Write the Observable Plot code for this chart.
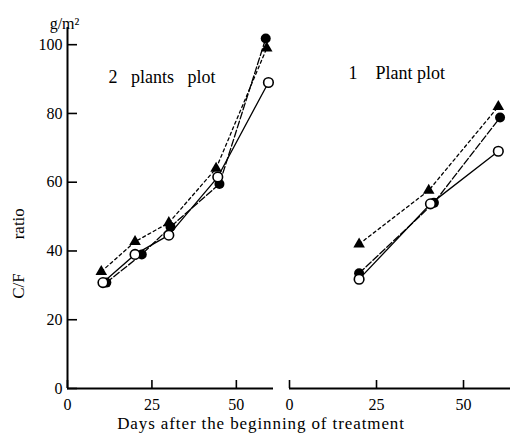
<!DOCTYPE html>
<html>
<head>
<meta charset="utf-8">
<script src="https://cdn.jsdelivr.net/npm/d3@7"></script>
<script src="https://cdn.jsdelivr.net/npm/@observablehq/plot@0.6"></script>
<style>
  html, body { margin: 0; padding: 0; background: #fff; }
  #wrap { position: relative; width: 518px; height: 445px; font-family: 'Liberation Serif', serif; }
  #wrap svg { position: absolute; top: 0; background: transparent; font-family: 'Liberation Serif', serif; }
  #wrap svg text { font-family: 'Liberation Serif', serif; }
  #xtitle { position: absolute; top: 414px; left: 0; width: 522px; text-align: center; font-family: 'Liberation Serif', serif; font-size: 17px; letter-spacing: 0.9px; color: #000; }
</style>
</head>
<body>
<div id="wrap"><div id="xtitle">Days after the beginning of treatment</div></div>
<script>
// ---- data ----
const panelTitles = ["2\u00A0\u00A0\u00A0plants\u00A0\u00A0\u00A0plot", "1\u00A0\u00A0\u00A0\u00A0Plant plot"];
const yTicks = [0, 20, 40, 60, 80, 100];
const xTicks = [0, 25, 50];
const yUnit = "g/m\u00B2";
const yLabel = "C/F\u00A0\u00A0\u00A0\u00A0\u00A0\u00A0\u00A0\u00A0ratio";

// 2 plants plot
const leftTriDays = [10, 20, 30, 44, 59];
const leftTriVals = [34, 42.7, 48.2, 64, 99];
const leftFilledDays = [11.5, 22, 30.5, 45, 58.7];
const leftFilledVals = [30.8, 39, 47, 59.5, 101.8];
const leftOpenDays = [10.5, 20, 30, 44.5, 59.5];
const leftOpenVals = [30.8, 39, 44.6, 61.5, 89];

// 1 Plant plot
const rightTriDays = [20, 40, 60];
const rightTriVals = [42, 57.6, 82];
const rightFilledDays = [20, 41.5, 60.5];
const rightFilledVals = [33.5, 54, 78.8];
const rightOpenDays = [20, 40.5, 60];
const rightOpenVals = [31.8, 53.7, 69];

const FONT = "'Liberation Serif', serif";
const zip = (xs, ys) => xs.map((x, i) => ({day: x, val: ys[i]}));

function seriesMarks(tri, filled, open) {
  return [
    Plot.line(tri, {x: "day", y: "val", stroke: "#000", strokeWidth: 1.3, strokeDasharray: "3,3"}),
    Plot.line(filled, {x: "day", y: "val", stroke: "#000", strokeWidth: 1.3, strokeDasharray: "7,2.5"}),
    Plot.line(open, {x: "day", y: "val", stroke: "#000", strokeWidth: 1.3}),
    Plot.dot(tri, {x: "day", y: "val", symbol: "triangle", r: 4.3, fill: "#000"}),
    Plot.dot(filled, {x: "day", y: "val", r: 5, fill: "#000"}),
    Plot.dot(open, {x: "day", y: "val", r: 4.8, fill: "#fff", stroke: "#000", strokeWidth: 1.6})
  ];
}

const common = {
  height: 445,
  marginTop: 27,
  marginBottom: 57,
  style: {fontFamily: FONT, fontSize: "16px", background: "transparent", overflow: "visible"}
};

const left = Plot.plot({
  ...common,
  width: 280,
  marginLeft: 67,
  marginRight: 7,
  x: {domain: [0, 61]},
  y: {domain: [0, 105]},
  marks: [
    Plot.axisY({ticks: yTicks, tickSize: -10, tickPadding: 15, label: null, fontSize: 16, fontFamily: FONT, strokeWidth: 1.6}),
    Plot.axisX({ticks: xTicks, tickSize: -8, tickPadding: 18, label: null, fontSize: 16, fontFamily: FONT, strokeWidth: 1.6}),
    Plot.ruleX([0], {stroke: "#000", strokeWidth: 2}),
    Plot.ruleY([0], {stroke: "#000", strokeWidth: 2}),
    Plot.text([yUnit], {frameAnchor: "top-left", dx: -3, dy: -10, fontSize: 16, fontFamily: FONT, textAnchor: "middle"}),
    Plot.text([yLabel], {frameAnchor: "left", rotate: -90, dx: -49, dy: 45.5, fontSize: 17, fontFamily: FONT, textAnchor: "middle"}),
    Plot.text([panelTitles[0]], {frameAnchor: "top-left", dx: 41, dy: 43, fontSize: 18, fontFamily: FONT, textAnchor: "start"}),
    ...seriesMarks(zip(leftTriDays, leftTriVals), zip(leftFilledDays, leftFilledVals), zip(leftOpenDays, leftOpenVals))
  ]
});

const right = Plot.plot({
  ...common,
  width: 238,
  marginLeft: 9,
  marginRight: 8,
  x: {domain: [0, 63.5]},
  y: {domain: [0, 105], axis: null},
  marks: [
    Plot.axisX({ticks: xTicks, tickSize: -8, tickPadding: 18, label: null, fontSize: 16, fontFamily: FONT, strokeWidth: 1.6}),
    Plot.ruleY([0], {stroke: "#000", strokeWidth: 2}),
    Plot.text([panelTitles[1]], {frameAnchor: "top-left", dx: 59, dy: 39, fontSize: 18, fontFamily: FONT, textAnchor: "start"}),
    ...seriesMarks(zip(rightTriDays, rightTriVals), zip(rightFilledDays, rightFilledVals), zip(rightOpenDays, rightOpenVals))
  ]
});

left.style.left = "0px";
right.style.left = "280px";
const wrap = document.getElementById("wrap");
wrap.appendChild(left);
wrap.appendChild(right);
</script>
</body>
</html>
